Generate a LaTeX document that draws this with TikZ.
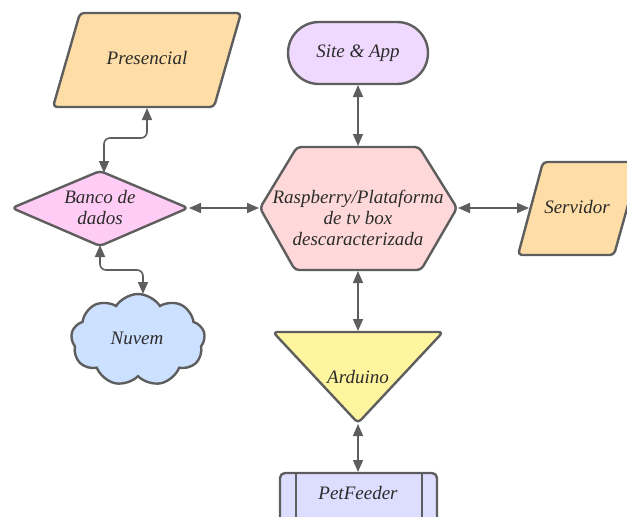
\documentclass[tikz,border=0pt]{standalone}
\usepackage{fontspec}
\setmainfont{Liberation Serif}
\usetikzlibrary{arrows.meta,shapes.symbols}
\definecolor{edge}{HTML}{5E5E5E}
\definecolor{txt}{HTML}{2B2B2B}
\definecolor{orangefill}{HTML}{FFDDA6}
\definecolor{pinkfill}{HTML}{FFCCF5}
\definecolor{lavfill}{HTML}{EFD9FF}
\definecolor{redfill}{HTML}{FFD9D9}
\definecolor{bluefill}{HTML}{CCE0FF}
\definecolor{yelfill}{HTML}{FFF59E}
\definecolor{purfill}{HTML}{DDDDFF}
\begin{document}
\begin{tikzpicture}[x=1pt,y=-1pt,
  shapeline/.style={draw=edge,line width=2.4pt,line join=round,rounded corners=4pt},
  label/.style={text=txt,font=\fontsize{19}{21}\selectfont\itshape,align=center,inner sep=0pt},
  conn/.style={draw=edge,line width=1.6pt,rounded corners=6pt,{Triangle[length=12pt,width=10pt]}-{Triangle[length=12pt,width=10pt]}}]
\useasboundingbox (0,0) rectangle (627,517);
% shapes
\path[shapeline,fill=orangefill] (80,13) -- (241,13) -- (214,107) -- (53,107) -- cycle;
\path[shapeline,fill=pinkfill] (12,208) -- (100,171) -- (188,208) -- (100,246) -- cycle;
\path[shapeline,fill=lavfill,rounded corners=31pt] (288,22) rectangle (428,84);
\path[shapeline,fill=redfill] (260,208) -- (297,147) -- (419,147) -- (457,208) -- (421,270) -- (295,270) -- cycle;
\path[shapeline,fill=orangefill] (543,162) -- (640,162) -- (614,255) -- (518,255) -- cycle;
\node[cloud,cloud puffs=9,cloud puff arc=115,aspect=1.45,minimum width=134pt,minimum height=92pt,
  draw=edge,line width=2.4pt,fill=bluefill,inner sep=0pt] (nuvemshape) at (138,340) {};
\path[shapeline,fill=yelfill] (273,332) -- (443,332) -- (358,423) -- cycle;
\path[shapeline,fill=purfill,rounded corners=5pt] (280,473) rectangle (437,535);
\draw[edge,line width=2.4pt] (296,473) -- (296,535) (422,473) -- (422,535);
% labels
\node[label] (presencial) at (147,58) {Presencial};
\node[label] (banco) at (100,208) {Banco de\\dados};
\node[label] (site) at (358,53) {Site \& App};
\node[label] (rasp) at (358,218) {Raspberry/Plataforma\\de tv box\\descaracterizada};
\node[label] (servidor) at (577,207) {Servidor};
\node[label] (nuvem) at (137,338) {Nuvem};
\node[label] (arduino) at (358,377) {Arduino};
\node[label] (pet) at (358,493) {PetFeeder};
% anchor coordinates
\coordinate (presB) at (147,108);
\coordinate (bancoT) at (104,173);
\coordinate (bancoB) at (100,245);
\coordinate (bancoR) at (189,208);
\coordinate (nuvT) at (143,294);
\coordinate (siteB) at (358,85);
\coordinate (raspT) at (358,146);
\coordinate (raspL) at (259,208);
\coordinate (raspR) at (458,208);
\coordinate (raspB) at (358,271);
\coordinate (servL) at (529,208);
\coordinate (ardT) at (358,331);
\coordinate (ardB) at (358,424);
\coordinate (petT) at (358,472);
% connectors
\draw[conn] (presB) -- (147,138) -- (104,138) -- (bancoT);
\draw[conn] (bancoB) -- (100,270) -- (143,270) -- (nuvT);
\draw[conn] (bancoR) -- (raspL);
\draw[conn] (siteB) -- (raspT);
\draw[conn] (raspR) -- (servL);
\draw[conn] (raspB) -- (ardT);
\draw[conn] (ardB) -- (petT);
\end{tikzpicture}
\end{document}
